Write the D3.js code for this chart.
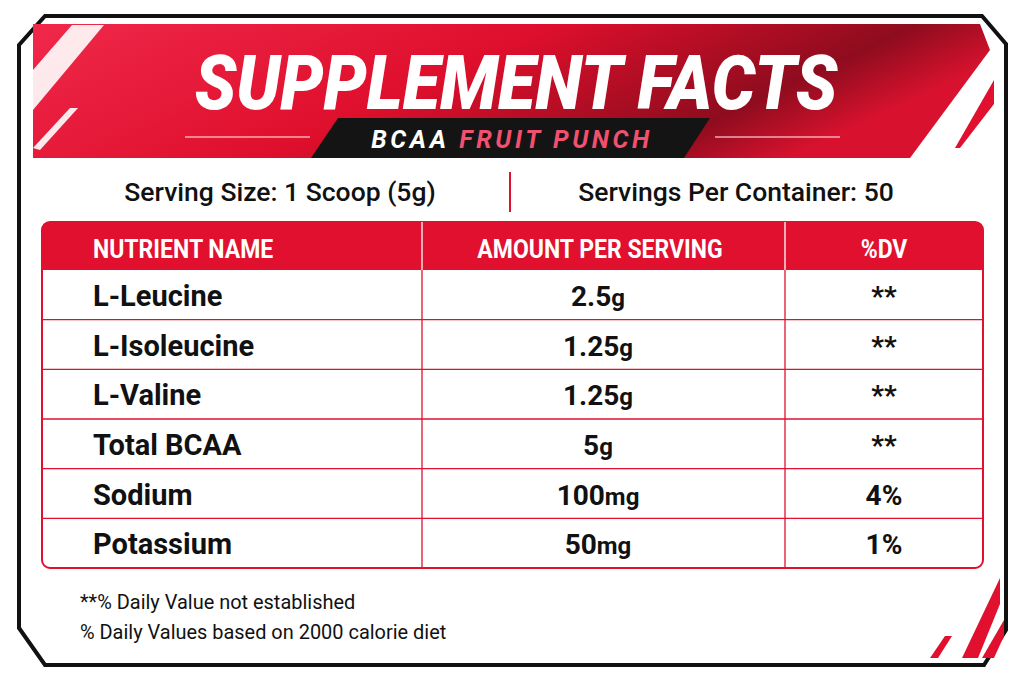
<!DOCTYPE html>
<html><head><meta charset="utf-8">
<script src="https://cdn.jsdelivr.net/npm/d3@7"></script>
<style>body{margin:0;background:#fff}svg{display:block}</style>
</head><body><div id="chart"></div>
<script>
// --- Supplement facts panel ---
const columns = ['NUTRIENT NAME', 'AMOUNT PER SERVING', '%DV'];
const nutrients = ['L-Leucine', 'L-Isoleucine', 'L-Valine', 'Total BCAA', 'Sodium', 'Potassium'];
const amounts = [['2.5', 'g'], ['1.25', 'g'], ['1.25', 'g'], ['5', 'g'], ['100', 'mg'], ['50', 'mg']];
const dailyValues = ['**', '**', '**', '**', '4%', '1%'];
const footnotes = ['**% Daily Value not established', '% Daily Values based on 2000 calorie diet'];

const W = 1024, H = 683;
const red = '#e0102e', font = 'Roboto, sans-serif';
const svg = d3.select('#chart').append('svg').attr('width', W).attr('height', H);

const defs = svg.append('defs');
const grad = defs.append('linearGradient').attr('id', 'hdr').attr('x1', 0).attr('x2', 1).attr('y1', 0).attr('y2', 0.3);
grad.append('stop').attr('offset', '0%').attr('stop-color', '#f0284a');
grad.append('stop').attr('offset', '50%').attr('stop-color', '#de0f2c');
grad.append('stop').attr('offset', '85%').attr('stop-color', '#8e0c1e');
grad.append('stop').attr('offset', '100%').attr('stop-color', '#d8122e');

// outer card
svg.append('path')
  .attr('d', 'M45,16 L982,16 L1006,44 L1006,630 L984,665 L45,665 L19,628 L19,45 Z')
  .attr('fill', '#fff').attr('stroke', '#111').attr('stroke-width', 4);

// header banner
svg.append('path')
  .attr('d', 'M33,24 L980,24 L990,50 L910,158 L33,158 Z')
  .attr('fill', 'url(#hdr)');
svg.append('path').attr('d', 'M33,70 L72,25 L104,25 L33,110 Z').attr('fill', '#fff').attr('opacity', 0.9);
svg.append('path').attr('d', 'M33,148 L70,108 L78,108 L40,150 Z').attr('fill', '#fff').attr('opacity', 0.9);
svg.append('path').attr('d', 'M990,76 L990,100 L950,148 L928,148 Z').attr('fill', '#fff');
svg.append('path').attr('d', 'M994,80 L994,104 L960,148 L955,148 Z').attr('fill', red);
[[185, 310, 137], [715, 840, 137]].forEach(([x1, x2, y]) =>
  svg.append('line').attr('x1', x1).attr('x2', x2).attr('y1', y).attr('y2', y)
    .attr('stroke', '#ffd0d8').attr('stroke-width', 1.5).attr('opacity', 0.8));

// black tab
svg.append('path').attr('d', 'M338,118 L710,118 L684,158 L311,158 Z').attr('fill', '#141414');

svg.append('text').attr('x', 516).attr('y', 104).attr('text-anchor', 'middle')
  .attr('font-family', font).attr('font-weight', 900).attr('font-style', 'italic')
  .attr('font-size', 72).attr('fill', '#fff')
  .attr('transform', 'translate(516,0) scale(0.95,1.05) translate(-516,0)')
  .text('SUPPLEMENT FACTS');

const sub = svg.append('text').attr('x', 512).attr('y', 148).attr('text-anchor', 'middle')
  .attr('font-family', font).attr('font-weight', 700).attr('font-style', 'italic')
  .attr('font-size', 25).attr('letter-spacing', 3.6);
sub.append('tspan').attr('fill', '#fff').text('BCAA ');
sub.append('tspan').attr('fill', '#f2506f').text('FRUIT PUNCH');

// serving line
svg.append('text').attr('x', 280).attr('y', 201).attr('text-anchor', 'middle')
  .attr('font-family', font).attr('font-weight', 500).attr('font-size', 26.5).attr('fill', '#111')
  .text('Serving Size: 1 Scoop (5g)');
svg.append('text').attr('x', 736).attr('y', 201).attr('text-anchor', 'middle')
  .attr('font-family', font).attr('font-weight', 500).attr('font-size', 26.5).attr('fill', '#111')
  .text('Servings Per Container: 50');
svg.append('line').attr('x1', 510).attr('x2', 510).attr('y1', 172).attr('y2', 212)
  .attr('stroke', red).attr('stroke-width', 2);

// table
const tx0 = 42, tx1 = 983, headTop = 222, headH = 48;
const colEdges = [tx0, 422, 785, tx1];
const y = d3.scaleBand().domain(nutrients).range([270, 568]);

svg.append('rect').attr('x', tx0).attr('y', headTop).attr('width', tx1 - tx0).attr('height', 568 - headTop)
  .attr('rx', 8).attr('fill', '#fff').attr('stroke', red).attr('stroke-width', 2);
svg.append('path')
  .attr('d', `M${tx0},270 L${tx0},${headTop + 8} Q${tx0},${headTop} ${tx0 + 8},${headTop} L${tx1 - 8},${headTop} Q${tx1},${headTop} ${tx1},${headTop + 8} L${tx1},270 Z`)
  .attr('fill', red);

svg.selectAll('.rowline').data(nutrients.slice(1)).join('line')
  .attr('x1', tx0).attr('x2', tx1).attr('y1', d => y(d)).attr('y2', d => y(d))
  .attr('stroke', red).attr('stroke-width', 1.3);
[1, 2].forEach(i => {
  svg.append('line').attr('x1', colEdges[i]).attr('x2', colEdges[i]).attr('y1', headTop).attr('y2', 270)
    .attr('stroke', '#fff').attr('stroke-width', 1.3);
  svg.append('line').attr('x1', colEdges[i]).attr('x2', colEdges[i]).attr('y1', 270).attr('y2', 568)
    .attr('stroke', red).attr('stroke-width', 1.3);
});

const headX = [93, 600, 884];
columns.forEach((c, i) => svg.append('text')
  .attr('x', headX[i]).attr('y', 258).attr('text-anchor', i ? 'middle' : 'start')
  .attr('font-family', font).attr('font-weight', 700).attr('font-size', 25).attr('fill', '#fff')
  .attr('transform', `translate(${headX[i]},0) scale(0.92,1) translate(${-headX[i]},0)`)
  .text(c));

const rowMid = d => y(d) + y.bandwidth() / 2 + 11;
svg.selectAll('.name').data(nutrients).join('text')
  .attr('x', 93).attr('y', rowMid)
  .attr('font-family', font).attr('font-weight', 700).attr('font-size', 29).attr('fill', '#111')
  .text(d => d);
svg.selectAll('.amt').data(nutrients).join('text')
  .attr('x', 598).attr('y', rowMid).attr('text-anchor', 'middle')
  .attr('font-family', font).attr('font-weight', 700).attr('fill', '#111')
  .each(function (d, i) {
    const t = d3.select(this);
    t.append('tspan').attr('font-size', 28).text(amounts[i][0]);
    t.append('tspan').attr('font-size', 24).text(amounts[i][1]);
  });
svg.selectAll('.dv').data(nutrients).join('text')
  .attr('x', 884).attr('y', rowMid).attr('text-anchor', 'middle')
  .attr('font-family', font).attr('font-weight', 700).attr('font-size', 28).attr('fill', '#111')
  .text((d, i) => dailyValues[i]);

// footnotes
svg.selectAll('.fn').data(footnotes).join('text')
  .attr('x', 80).attr('y', (d, i) => 609 + i * 30)
  .attr('font-family', font).attr('font-size', 21).attr('fill', '#111')
  .attr('transform', 'translate(80,0) scale(0.95,1) translate(-80,0)')
  .text(d => d);

// corner stripes bottom right
svg.append('path').attr('d', 'M1000,578 L1000,604 L978,658 L962,658 Z').attr('fill', red);
svg.append('path').attr('d', 'M945,636 L952,636 L938,658 L930,658 Z').attr('fill', red);
svg.append('path').attr('d', 'M1004,620 L1004,636 L994,658 L982,658 Z').attr('fill', red);
</script></body></html>
